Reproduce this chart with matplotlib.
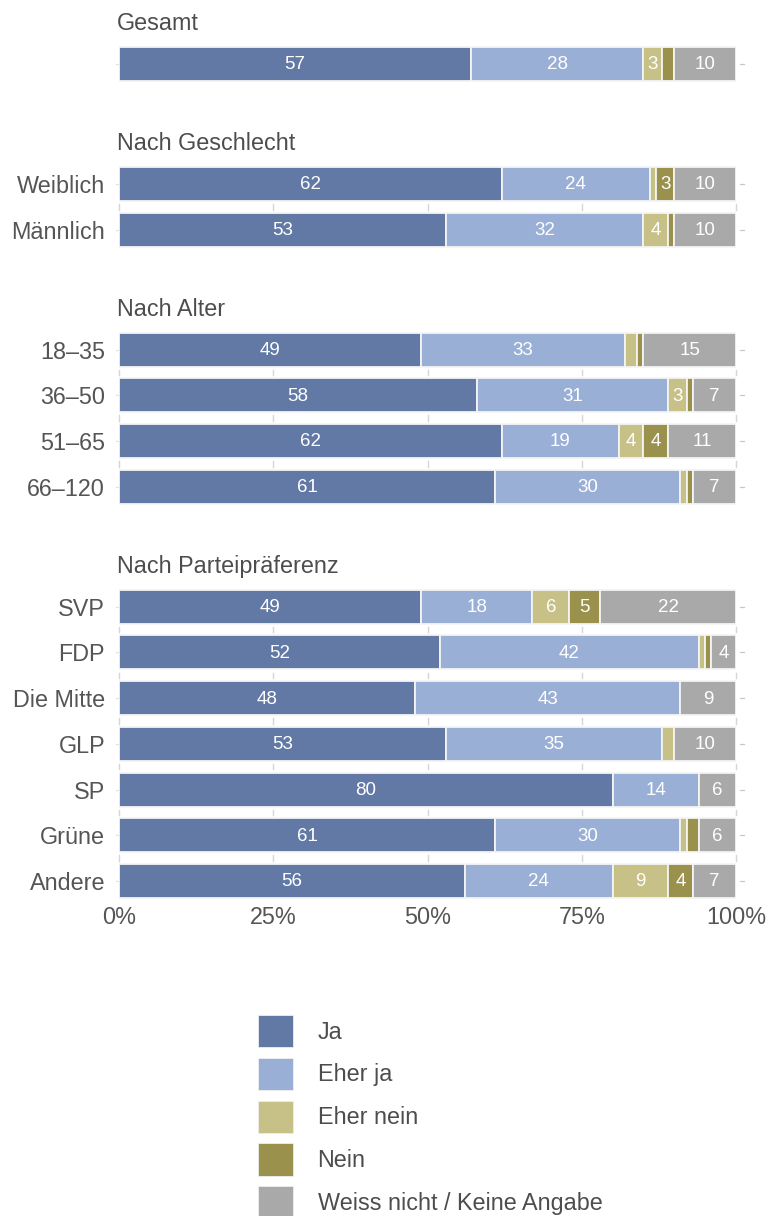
import matplotlib
matplotlib.use("Agg")
import matplotlib.pyplot as plt
from matplotlib.patches import Patch

# ---------------- data ----------------
group_titles = ["Gesamt", "Nach Geschlecht", "Nach Alter", "Nach Parteipräferenz"]
group_sizes = [1, 2, 4, 7]
row_labels = ["", "Weiblich", "Männlich", "18–35", "36–50", "51–65", "66–120",
              "SVP", "FDP", "Die Mitte", "GLP", "SP", "Grüne", "Andere"]

ja        = [57, 62, 53, 49, 58, 62, 61, 49, 52, 48, 53, 80, 61, 56]
eher_ja   = [28, 24, 32, 33, 31, 19, 30, 18, 42, 43, 35, 14, 30, 24]
eher_nein = [3, 1, 4, 2, 3, 4, 1, 6, 1, 0, 2, 0, 1, 9]
nein      = [2, 3, 1, 1, 1, 4, 1, 5, 1, 0, 0, 0, 2, 4]
weiss     = [10, 10, 10, 15, 7, 11, 7, 22, 4, 9, 10, 6, 6, 7]

series_names = ["Ja", "Eher ja", "Eher nein", "Nein", "Weiss nicht / Keine Angabe"]
series_colors = ["#6279A6", "#9AAFD5", "#C7C187", "#9A914C", "#A9A9A9"]
x_ticks = [0, 25, 50, 75, 100]
x_ticklabels = ["0%", "25%", "50%", "75%", "100%"]

# ---------------- style ----------------
plt.rcParams["font.family"] = ["Liberation Sans", "DejaVu Sans"]
TXT = "#555555"
FS = 16.8

fig = plt.figure(figsize=(7.68, 12.16), dpi=100)
W, H = 768, 1216
ax_left, ax_right, ax_top, ax_bot = 119, 736, 0, 905
ax = fig.add_axes([ax_left / W, 1 - ax_bot / H, (ax_right - ax_left) / W, (ax_bot - ax_top) / H])

# row positions (rows separated by 1, groups by a larger gap)
GROUP_GAP = 2.625
positions = []
y = 0.0
for gi, n in enumerate(group_sizes):
    if gi > 0:
        y += GROUP_GAP - 1
    for k in range(n):
        positions.append(y)
        y += 1
pitch = 45.71
y_top = positions[0] - 64 / pitch
y_bot = positions[-1] + (905 - 881) / pitch
ax.set_ylim(y_bot, y_top)
ax.set_xlim(0, 100)

BAR_H = 34 / pitch
series = [ja, eher_ja, eher_nein, nein, weiss]
lefts = [0.0] * len(positions)
for vals, col in zip(series, series_colors):
    ax.barh(positions, vals, left=lefts, height=BAR_H, color=col,
            edgecolor="#F4F4F4", linewidth=1.3, zorder=3)
    for yp, lft, v in zip(positions, lefts, vals):
        if v >= 3:
            ax.text(lft + v / 2, yp + 0.02, f"{v}", ha="center", va="center",
                    color="white", fontsize=13.5, zorder=4)
    lefts = [l + v for l, v in zip(lefts, vals)]

# faint grid pieces between bars within a group, and ticks at bar centres
idx = 0
for n in group_sizes:
    grp = positions[idx:idx + n]
    for a, b in zip(grp[:-1], grp[1:]):
        mid = (a + b) / 2
        for xt in x_ticks:
            ax.plot([xt, xt], [mid - 0.06, mid + 0.06], color="#D6D6D6", lw=1.0,
                    zorder=1, clip_on=False)
    idx += n
for yp in positions:
    ax.plot([100.7, 101.3], [yp, yp], color="#C8C8C8", lw=0.9, clip_on=False, zorder=1)
    ax.plot([-0.45, -0.15], [yp, yp], color="#E2E2E2", lw=0.9, clip_on=False, zorder=1)

# group headers
idx = 0
for title, n in zip(group_titles, group_sizes):
    ax.text(-0.3, positions[idx] - 0.74, title, ha="left", va="baseline",
            fontsize=FS, color="#4D4D4D")
    idx += n

# axes
ax.set_yticks(positions)
ax.set_yticklabels(row_labels, fontsize=FS, color=TXT)
ax.set_xticks(x_ticks)
ax.set_xticklabels(x_ticklabels, fontsize=FS, color=TXT)
ax.tick_params(axis="y", length=0, pad=10)
ax.tick_params(axis="x", length=0, pad=1)
for s in ax.spines.values():
    s.set_visible(False)

# legend
handles = [Patch(facecolor=c, edgecolor="#EEEEEE", linewidth=0.6) for c in series_colors]
fig.legend(handles, series_names, loc="upper left",
           bbox_to_anchor=(258 / W, 1 - 1015 / H), frameon=False,
           fontsize=FS, labelcolor="#4D4D4D", borderpad=0, borderaxespad=0,
           handleheight=1.75, handlelength=1.5, labelspacing=0.45,
           handletextpad=1.05)

fig.savefig("out.png", dpi=100)
